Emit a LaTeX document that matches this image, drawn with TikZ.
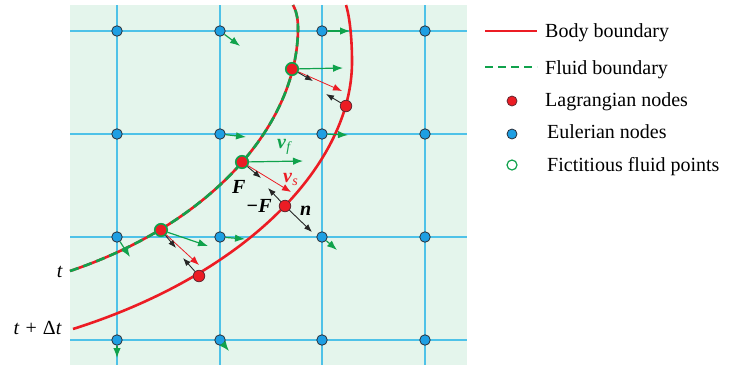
\documentclass[tikz,border=0pt]{standalone}
\usepackage{fontspec}
\setmainfont{Liberation Serif}
\usetikzlibrary{arrows.meta}
\definecolor{ibmPanel}{HTML}{E4F5EC}
\definecolor{ibmGrid}{HTML}{4EC2E8}
\definecolor{ibmBlue}{HTML}{1E9FE3}
\definecolor{ibmRed}{HTML}{EC1C24}
\definecolor{ibmGreen}{HTML}{10A24C}
\definecolor{ibmEdge}{HTML}{2A2F38}

\tikzset{
    lbl/.style={font=\fontsize{20}{24}\selectfont, inner sep=0pt},
    gridline/.style={ibmGrid, line width=1.6pt},
    bodyline/.style={ibmRed, line width=2.6pt},
    fluidline/.style={ibmGreen, line width=2.6pt, dash pattern=on 9pt off 5pt},
    eulernode/.style={circle, fill=ibmBlue, draw=ibmEdge, line width=0.8pt, minimum size=10.5pt, inner sep=0pt},
    lagnode/.style={circle, fill=ibmRed, draw=ibmEdge!70!ibmRed, line width=0.8pt, minimum size=11.5pt, inner sep=0pt},
    fictnode/.style={lagnode, draw=ibmGreen, line width=1.6pt, minimum size=12.5pt},
    flowvec/.style={ibmGreen, line width=1.2pt, -{Latex[length=10pt,width=7.5pt]}},
    solidvec/.style={ibmRed, line width=0.8pt, -{Latex[length=9pt,width=7pt]}},
    forcevec/.style={black!85, line width=0.9pt, -{Latex[length=8pt,width=6pt]}}
}

\begin{document}
\begin{tikzpicture}[x=1pt, y=-1pt]
    \useasboundingbox (0,0) rectangle (730,365);
    \fill[ibmPanel] (70,5) rectangle (467,365);
    \foreach \x in {117,220,322,425}
        \draw[gridline] (\x,5) -- (\x,365);
    \foreach \y in {31,134,237,340}
        \draw[gridline] (70,\y) -- (467,\y);

    \draw[bodyline] (73,329) .. controls (250,273) and (352,162) .. (352,62) .. controls (352,40) and (350,18) .. (346,5);
    \draw[bodyline] (70,271) .. controls (215,222) and (298,122) .. (298,28) .. controls (298,18) and (296,10) .. (293,5);
    \draw[fluidline] (70,271) .. controls (215,222) and (298,122) .. (298,28) .. controls (298,18) and (296,10) .. (293,5);

    \foreach \i/\x in {1/117,2/220,3/322,4/425}
        \foreach \j/\y in {1/31,2/134,3/237,4/340}
            \node[eulernode] (e-\i-\j) at (\x,\y) {};

    \node[fictnode] (fluidA) at (292,69) {};
    \node[fictnode] (fluidB) at (242,162) {};
    \node[fictnode] (fluidC) at (161,230) {};
    \node[lagnode] (bodyA) at (346,106) {};
    \node[lagnode] (bodyB) at (285,206) {};
    \node[lagnode] (bodyC) at (199,276) {};

    \foreach \src/\tx/\ty in {e-2-1/240/46, e-3-1/350/31, e-2-2/246/137, e-3-2/348/135,
                              e-1-3/130/257, e-2-3/245/239, e-3-3/337/250, e-1-4/117/358,
                              e-2-4/229/351, fluidA/343/68, fluidB/303/161, fluidC/208/246} {
        \coordinate (\src-vf) at (\tx,\ty);
        \draw[flowvec] (\src) -- (\src-vf);
    }
    \foreach \src/\tx/\ty in {fluidA/342/91, fluidB/291/192, fluidC/199/265} {
        \coordinate (\src-vs) at (\tx,\ty);
        \draw[solidvec] (\src) -- (\src-vs);
    }
    \foreach \src/\tx/\ty in {fluidA/313/81, fluidB/261/178, fluidC/176/248,
                              bodyA/326/94, bodyB/268/188, bodyC/183/258} {
        \coordinate (\src-f) at (\tx,\ty);
        \draw[forcevec] (\src) -- (\src-f);
    }
    \coordinate (bodyB-n) at (312,232);
    \draw[forcevec] (bodyB) -- (bodyB-n);

    \node[lbl, anchor=base east] (tlab) at (63,277) {\textit{t}};
    \node[lbl, anchor=base east] (tdtlab) at (62,334) {\textit{t}\hspace{0.3em}+\hspace{0.3em}Δ\textit{t}};
    \node[lbl, anchor=base west] (flab) at (232,193) {\textbf{\textit{F}}};
    \node[lbl, anchor=base west] (mflab) at (246,212) {\textbf{\textit{−F}}};
    \node[lbl, anchor=base west] (nlab) at (300,215) {\textbf{\textit{n}}};
    \node[lbl, anchor=base west, text=ibmGreen] (vflab) at (277,148) {\textbf{\textit{v}}\textsubscript{\textit{f}}};
    \node[lbl, anchor=base west, text=ibmRed] (vslab) at (283,182) {\textbf{\textit{v}}\textsubscript{\textit{s}}};

    \coordinate (keyBodyL) at (485,31);
    \coordinate (keyBodyR) at (537,31);
    \coordinate (keyFluidL) at (485,67);
    \coordinate (keyFluidR) at (537,67);
    \draw[ibmRed, line width=2pt] (keyBodyL) -- (keyBodyR);
    \draw[ibmGreen, line width=2pt, dash pattern=on 8pt off 5pt] (keyFluidL) -- (keyFluidR);
    \node[lagnode, minimum size=10pt] (keyLag) at (512,101) {};
    \node[eulernode, minimum size=10pt] (keyEuler) at (512,134) {};
    \node[circle, draw=ibmGreen, fill=white, line width=1.2pt, minimum size=10pt, inner sep=0pt] (keyFict) at (512,165) {};
    \node[lbl, anchor=base west] (keyBodyT) at (545,37) {Body boundary};
    \node[lbl, anchor=base west] (keyFluidT) at (545,74) {Fluid boundary};
    \node[lbl, anchor=base west] (keyLagT) at (545,106) {Lagrangian nodes};
    \node[lbl, anchor=base west] (keyEulerT) at (547,138) {Eulerian nodes};
    \node[lbl, anchor=base west] (keyFictT) at (547,171) {Fictitious fluid points};
\end{tikzpicture}
\end{document}
